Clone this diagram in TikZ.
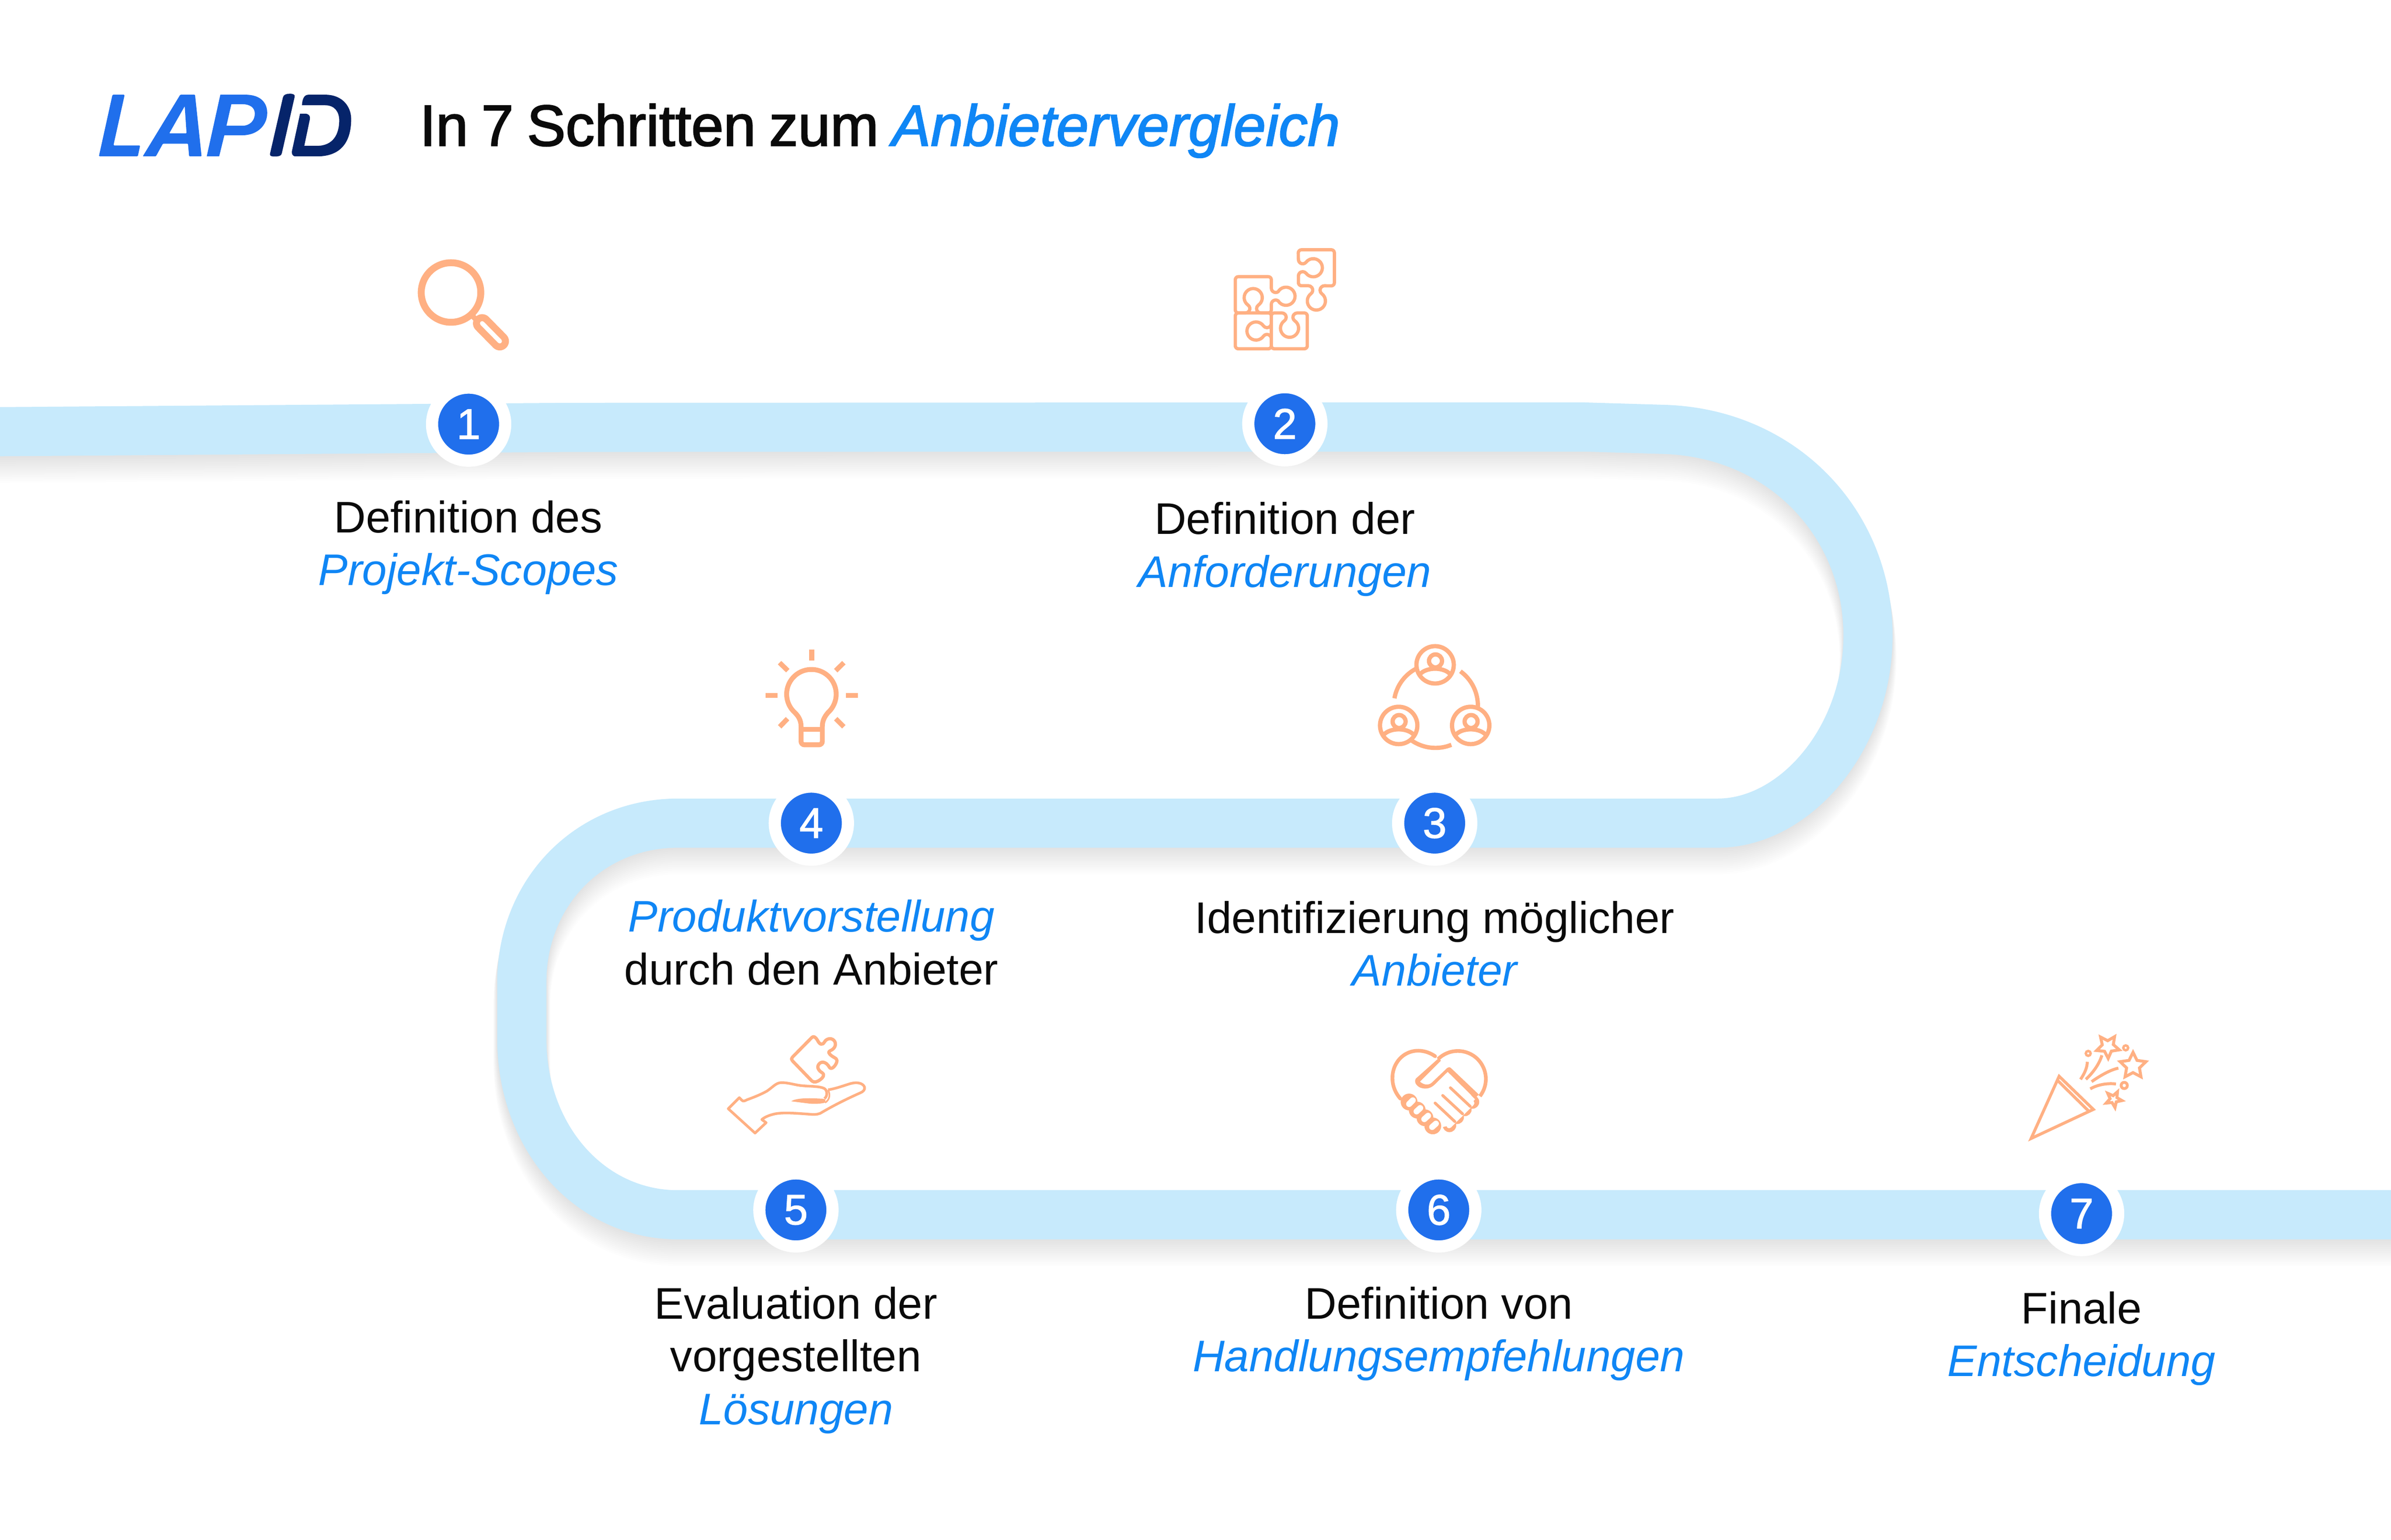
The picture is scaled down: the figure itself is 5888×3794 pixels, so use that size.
\documentclass[tikz,border=0pt]{standalone}
\usepackage{fontspec}
\setmainfont{Liberation Sans}
\newfontfamily\medfont[FakeBold=1.5]{Liberation Sans}
\newfontfamily\titlefont[FakeBold=2,ItalicFont={Liberation Sans Italic},ItalicFeatures={FakeBold=2}]{Liberation Sans}
\newcommand{\ts}{\hskip .23em\relax}
\definecolor{bandc}{HTML}{C7EAFC}
\definecolor{stepc}{HTML}{206FEC}
\definecolor{darkc}{HTML}{06246A}
\definecolor{icoc}{HTML}{FFB083}
\definecolor{accent}{HTML}{0F86F5}
\definecolor{inkc}{HTML}{0A0A0A}
\tikzset{
  zs/.style 2 args={shift={(#1,#2)},scale=0.33333},
  stepdot/.style={circle,fill=stepc,draw=white,line width=.3cm,minimum size=1.8cm,inner sep=0pt,text=white,font=\medfont\fontsize{30}{30}\selectfont},
  steplabel/.style={align=center,inner sep=0pt,text=inkc,font=\fontsize{31}{37}\selectfont},
  titletext/.style={anchor=base west,inner sep=0pt,text=inkc,font=\titlefont\fontsize{40.6}{44}\selectfont},
  ico/.style={draw=icoc,line width=.08cm,line join=round},
  ico16/.style={draw=icoc,line width=.17cm},
  bulb/.style={draw=icoc,line width=.12cm},
  ppl/.style={draw=icoc,line width=.105cm},
  hnd/.style={draw=icoc,line width=.065cm,line join=round},
  conf/.style={draw=icoc,line width=.073cm,line join=miter,miter limit=10},
}
\newcommand{\ribbonpath}{(-60,1064) -- (1400,1053) -- (3200,1052) -- (3900,1052) -- (4100,1058) .. controls (4390,1068) and (4600,1290) .. (4600,1566) .. controls (4600,1820) and (4420,2028) .. (4230,2028) -- (1670,2028) .. controls (1450,2028) and (1285,2200) .. (1285,2420) -- (1285,2560) .. controls (1285,2800) and (1450,2993) .. (1670,2993) -- (5950,2993)}
\newcommand{\personicon}[2]{%
  \begin{scope}[shift={(#1,#2)}]
    \draw[ppl] (0,0) circle[radius=138];
    \draw[ppl] (3,-29) circle[radius=48];
    \draw[ppl] (-112,70) .. controls (-65,15) and (65,15) .. (112,70);
  \end{scope}}
\newcommand{\starline}[5]{%
  \draw[conf,shift={(#1,#2)}] ({#5}:#3) -- ({#5+36}:#4) -- ({#5+72}:#3) -- ({#5+108}:#4) -- ({#5+144}:#3) -- ({#5+180}:#4) -- ({#5+216}:#3) -- ({#5+252}:#4) -- ({#5+288}:#3) -- ({#5+324}:#4) -- cycle;}
\begin{document}
\begin{tikzpicture}[x=0.01cm,y=-0.01cm]
\fill[white] (0,0) rectangle (5888,3794);
\useasboundingbox (0,0) rectangle (5888,3794);

% ribbon with soft shadow
\foreach \k in {1,...,14}{
  \draw[black,draw opacity=.0065,line width={(121+1.4*\k)*0.01cm},shift={(0,4*\k)}] \ribbonpath;
}
\draw[bandc,line width=1.21cm] \ribbonpath;

% logo
\begin{scope}[shift={(180,150)},xscale=0.5774,yscale=0.33333]
  \fill[stepc,rounded corners=.02cm] (168,250) -- (220,250) -- (172,625) -- (286,625) -- (276,706) -- (110,706) -- cycle;
  \fill[stepc,even odd rule,rounded corners=.015cm] (457,250) -- (520,250) -- (548,706) -- (495,706) -- (490,612) -- (383,612) -- (353,706) -- (297,706) -- cycle (476,335) -- (484,536) -- (410,536) -- cycle;
  \fill[stepc,even odd rule] (628,250) -- (735,250) .. controls (800,250) and (828,310) .. (828,385) .. controls (828,470) and (790,550) .. (720,550) -- (645,550) -- (623,706) -- (570,706) -- cycle (675,320) -- (720,320) .. controls (755,320) and (775,345) .. (775,390) .. controls (775,440) and (755,480) .. (720,480) -- (654,480) -- cycle;
  \fill[darkc] (895,270) .. controls (897,250) and (910,242) .. (925,243) .. controls (940,243) and (947,250) .. (945,265) -- (890,685) .. controls (888,703) and (875,707) .. (860,707) .. controls (842,707) and (838,700) .. (840,685) -- cycle;
  \fill[darkc] (976,328) .. controls (978,280) and (985,250) .. (1005,250) -- (1075,250) .. controls (1150,250) and (1186,340) .. (1186,430) .. controls (1186,560) and (1160,706) .. (1040,706) -- (945,706) .. controls (935,700) and (932,685) .. (933,670) -- (968,390) -- (990,390) .. controls (1005,392) and (1012,405) .. (1010,430) -- (986,628) -- (1040,628) .. controls (1110,628) and (1135,540) .. (1135,440) .. controls (1135,375) and (1115,328) .. (1075,328) -- cycle;
\end{scope}

% title
\node[titletext] (title) at (1033,359) {In\ts 7\ts Schritten\ts zum\ts\textcolor{accent}{\itshape Anbietervergleich}};

% icon 1: magnifier
\begin{scope}[zs={980}{580}]
  \draw[ico16] (392,422) circle[radius=220];
  \draw[icoc,line width=.13cm] (545,590) -- (590,635);
  \draw[icoc,line width=.453cm,line cap=round] (622,650) -- (752,782);
  \draw[white,line width=.11cm,line cap=round] (622,650) -- (752,782);
\end{scope}

% icon 2: puzzle
\begin{scope}[zs={2960}{580}]
  \draw[ico] (735,106) -- (955,106) arc[start angle=-90,end angle=0,radius=23] -- (978,350) arc[start angle=0,end angle=90,radius=23] -- (905,372)
     arc[start angle=-90,end angle=-233,radius=33] arc[start angle=-53,end angle=233,radius=67] arc[start angle=54,end angle=-90,radius=33]
     -- (735,372) arc[start angle=90,end angle=180,radius=23] -- (712,300)
     arc[start angle=180,end angle=322,radius=32] arc[start angle=142,end angle=-142,radius=67] arc[start angle=38,end angle=180,radius=32]
     -- (711,130) arc[start angle=180,end angle=270,radius=24] -- cycle;
  \draw[ico] (268,305) -- (490,305) arc[start angle=-90,end angle=0,radius=22] -- (512,390)
     arc[start angle=180,end angle=55,radius=32] arc[start angle=-150,end angle=150,radius=67] arc[start angle=-55,end angle=-180,radius=32]
     -- (512,551) arc[start angle=0,end angle=90,radius=22] -- (435,573)
     arc[start angle=90,end angle=235,radius=32] arc[start angle=55,end angle=-235,radius=67] arc[start angle=-55,end angle=90,radius=32]
     -- (268,573) arc[start angle=90,end angle=180,radius=22] -- (246,327) arc[start angle=180,end angle=270,radius=22] -- cycle;
  \draw[ico] (268,573) -- (490,573) arc[start angle=-90,end angle=0,radius=22] -- (512,650)
     arc[start angle=0,end angle=145,radius=32] arc[start angle=-35,end angle=-325,radius=67] arc[start angle=-145,end angle=0,radius=32]
     -- (512,816) arc[start angle=0,end angle=90,radius=22] -- (268,838) arc[start angle=90,end angle=180,radius=22] -- (246,595) arc[start angle=180,end angle=270,radius=22] -- cycle;
  \draw[ico] (534,573) -- (590,573)
     arc[start angle=-90,end angle=55,radius=32] arc[start angle=-125,end angle=-415,radius=67] arc[start angle=125,end angle=270,radius=32]
     -- (756,573) arc[start angle=-90,end angle=0,radius=22] -- (778,816) arc[start angle=0,end angle=90,radius=22] -- (534,838) arc[start angle=90,end angle=180,radius=22] -- (512,595) arc[start angle=180,end angle=270,radius=22] -- cycle;
\end{scope}

% icon 4: bulb
\begin{scope}[zs={1840}{1560}]
  \draw[bulb] (477,120) -- (477,203);
  \draw[bulb] (239,218) -- (300,277);
  \draw[bulb] (714,218) -- (654,277);
  \draw[bulb] (137,459) -- (225,459);
  \draw[bulb] (728,459) -- (816,459);
  \draw[bulb] (240,692) -- (298,632);
  \draw[bulb] (714,692) -- (654,632);
  \draw[bulb] (398,800) -- (398,690) .. controls (398,640) and (375,610) .. (352,587) arc[start angle=132,end angle=408,radius=183] .. controls (578,610) and (555,640) .. (555,690) -- (555,800) arc[start angle=0,end angle=90,radius=25] -- (423,825) arc[start angle=90,end angle=180,radius=25] -- cycle;
  \draw[bulb] (398,710) -- (555,710);
\end{scope}

% icon 3: people
\begin{scope}[zs={3350}{1550}]
  \draw[ppl] (555,565) ++(190:308) arc[start angle=190,end angle=242,radius=308];
  \draw[ppl] (555,565) ++(-54:313) arc[start angle=-54,end angle=2,radius=313];
  \draw[ppl] (555,565) ++(124:313) arc[start angle=124,end angle=68,radius=313];
  \personicon{552}{264}
  \personicon{283}{712}
  \personicon{815}{712}
\end{scope}

% icon 5: hand with puzzle piece
\begin{scope}[zs={1760}{2520}]
  \draw[hnd,line width=.08cm] (718,108) .. controls (730,95) and (745,105) .. (760,130) .. controls (775,160) and (795,170) .. (812,140) .. controls (825,115) and (870,105) .. (888,140) .. controls (900,170) and (880,195) .. (855,205) .. controls (835,215) and (840,225) .. (865,245) .. controls (895,265) and (910,265) .. (900,295) .. controls (890,320) and (860,355) .. (845,325) .. controls (825,290) and (790,280) .. (770,305) .. controls (750,330) and (770,355) .. (795,370) .. controls (815,385) and (800,405) .. (780,420) .. controls (760,435) and (735,445) .. (718,430) -- (578,285) .. controls (565,270) and (565,265) .. (578,250) -- cycle;
  \draw[hnd] (838,495) .. controls (900,485) and (950,465) .. (1000,450) .. controls (1050,435) and (1095,445) .. (1107,475) .. controls (1112,495) and (1095,510) .. (1075,518) .. controls (980,560) and (880,610) .. (795,660) .. controls (775,675) and (750,678) .. (720,677) .. controls (620,670) and (520,660) .. (450,672) .. controls (410,680) and (370,695) .. (348,715) -- (380,738) -- (298,815) -- (100,635) -- (182,553) -- (200,572) .. controls (212,585) and (225,575) .. (240,568) .. controls (290,550) and (340,530) .. (385,505) .. controls (430,475) and (450,445) .. (490,442) .. controls (540,440) and (600,462) .. (650,465) .. controls (700,470) and (770,468) .. (805,483) .. controls (835,495) and (835,545) .. (810,560);
  \draw[hnd,line width=.04cm] (838,495) .. controls (855,530) and (850,570) .. (815,590);
  \fill[icoc] (565,580) .. controls (600,555) and (700,555) .. (770,560) .. controls (790,560) and (805,560) .. (818,568) -- (815,590) .. controls (780,600) and (730,600) .. (700,597) -- cycle;
\end{scope}

% icon 6: handshake
\begin{scope}[zs={3380}{2550}]
  \draw[icoc,line width=.09cm,line cap=round] (462,157) .. controls (410,120) and (340,105) .. (280,125) .. controls (200,150) and (145,230) .. (147,320) .. controls (147,380) and (170,430) .. (205,470);
  \draw[icoc,line width=.09cm] (630,325) ++(-135:207) arc[start angle=-135,end angle=38,radius=207];
  \foreach \p in {(738,495),(682,550),(625,608),(568,668)} \fill[icoc] \p circle[radius=50];
  \fill[white] (553,275) -- (757,475) -- (733,503) -- (565,670) -- (520,680) -- (500,670) -- (350,400) -- cycle;
  \draw[white,line width=.13cm,line cap=round] (733,503) -- (565,670);
  \draw[icoc,line width=.07cm,line cap=round] (575,390) -- (722,528);
  \draw[icoc,line width=.07cm,line cap=round] (518,447) -- (665,583);
  \draw[icoc,line width=.07cm,line cap=round] (462,503) -- (608,640);
  \fill[icoc] (490,170) -- (320,322) .. controls (305,345) and (320,375) .. (355,390) .. controls (400,405) and (435,390) .. (460,365) -- (555,272) -- (755,470) -- (785,440) -- (580,245) .. controls (570,235) and (560,238) .. (550,245) -- (440,350) .. controls (420,370) and (385,375) .. (350,345) -- (505,190) -- cycle;
  \foreach \p in {(270,495),(330,555),(387,612),(445,672)} \fill[icoc] \p circle[radius=62];
  \draw[white,line width=.147cm,line cap=round] (270,510) -- (297,483);
  \draw[white,line width=.147cm,line cap=round] (325,565) -- (352,540);
  \draw[white,line width=.147cm,line cap=round] (382,622) -- (410,597);
  \draw[white,line width=.147cm,line cap=round] (440,680) -- (468,655);
\end{scope}

% icon 7: confetti
\begin{scope}[zs={4960}{2520}]
  \draw[conf] (125,855) -- (332,395) -- (585,640) -- cycle;
  \draw[conf] (320,425) -- (548,650);
  \draw[conf] (490,418) .. controls (520,375) and (540,330) .. (540,288);
  \draw[conf] (530,418) .. controls (590,360) and (630,300) .. (648,240);
  \draw[conf] (572,435) .. controls (650,380) and (720,345) .. (770,335);
  \draw[conf] (562,488) .. controls (620,455) and (690,445) .. (752,452);
  \draw[icoc,line width=.06cm] (547,226) circle[radius=18];
  \draw[icoc,line width=.06cm] (824,185) circle[radius=18];
  \draw[icoc,line width=.07cm] (813,463) circle[radius=23];
  \starline{692}{175}{88}{43}{-127.6}
  \starline{878}{318}{100}{50}{-90}
  \starline{735}{565}{62}{27}{-135}
\end{scope}

% step dots
\node[stepdot] (s1) at (1154,1045) {1};
\node[stepdot] (s2) at (3164,1044) {2};
\node[stepdot] (s3) at (3533,2028) {3};
\node[stepdot] (s4) at (1998,2028) {4};
\node[stepdot] (s5) at (1960,2981) {5};
\node[stepdot] (s6) at (3543,2981) {6};
\node[stepdot] (s7) at (5126,2990) {7};

% labels
\node[steplabel] (l1) at (1153,1349) {Definition des\\\textcolor{accent}{\itshape Projekt-Scopes}};
\node[steplabel] (l2) at (3164,1353) {Definition der\\\textcolor{accent}{\itshape Anforderungen}};
\node[steplabel] (l3) at (3533,2325) {Identifizierung möglicher\\\textcolor{accent}{\itshape Anbieter}};
\node[steplabel] (l4) at (1998,2322) {\textcolor{accent}{\itshape Produktvorstellung}\\durch den Anbieter};
\node[steplabel] (l5) at (1960,3351) {Evaluation der\\vorgestellten\\\textcolor{accent}{\itshape Lösungen}};
\node[steplabel] (l6) at (3543,3286) {Definition von\\\textcolor{accent}{\itshape Handlungsempfehlungen}};
\node[steplabel] (l7) at (5126,3298) {Finale\\\textcolor{accent}{\itshape Entscheidung}};
\end{tikzpicture}
\end{document}
